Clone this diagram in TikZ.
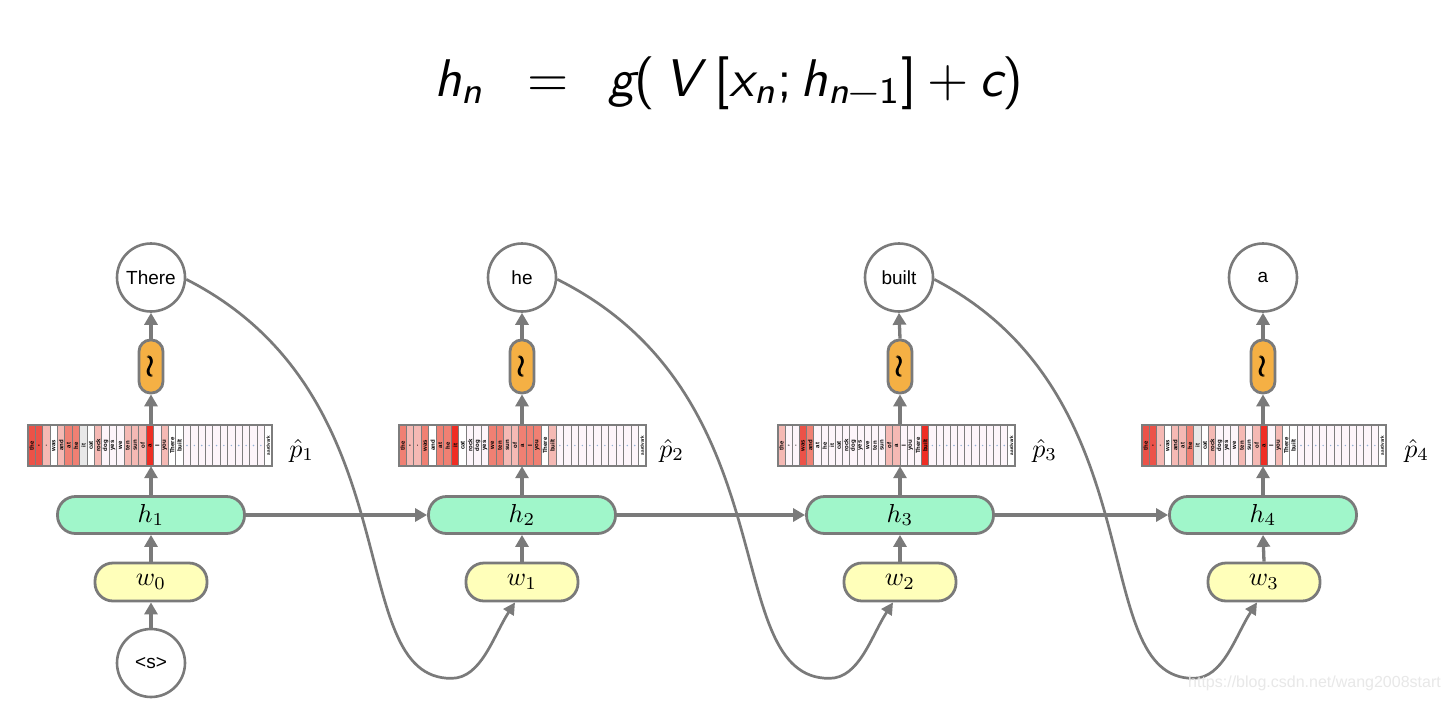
\documentclass[tikz,border=0pt]{standalone}
\usepackage{amsmath}
\usepackage{graphicx}
\usepackage{fontspec}
\newfontfamily\arialf{Liberation Sans}
\usetikzlibrary{arrows.meta,calc}
\definecolor{lgray}{RGB}{122,122,122}
\definecolor{bgray}{RGB}{125,125,125}
\definecolor{mint}{RGB}{160,246,202}
\definecolor{lyellow}{RGB}{255,255,186}
\definecolor{orng}{RGB}{245,176,68}
\definecolor{cH}{RGB}{236,82,72}
\definecolor{cX}{RGB}{238,45,36}
\definecolor{cM}{RGB}{240,128,115}
\definecolor{cL}{RGB}{245,185,180}
\definecolor{cZ}{RGB}{253,245,250}
\definecolor{cW}{RGB}{255,255,255}
\definecolor{cG}{RGB}{232,232,232}
\definecolor{dotc}{RGB}{150,180,215}
\definecolor{wmgray}{RGB}{232,232,232}
\newcommand\sfi[1]{\text{\sffamily\slshape #1}}
\newcommand\sfu[1]{\text{\sffamily #1}}
\newcommand\bigmath[2]{\scalebox{#1}{$#2$}}
\tikzset{
  gline/.style={draw=lgray, line width=3.3pt},
  conn/.style={gline, -{Triangle[width=13pt,length=12pt]}},
  curvec/.style={draw=lgray, line width=2.7pt, -{Triangle[width=12pt,length=12pt]}},
  wordc/.style={circle, draw=lgray, line width=2.6pt, minimum size=68pt, inner sep=0pt,
    font=\arialf\fontsize{19}{19}\selectfont, fill=white},
  hbox/.style={rectangle, rounded corners=18pt, draw=lgray, line width=2.8pt, fill=mint,
    minimum width=187pt, minimum height=37pt, inner sep=0pt},
  wbox/.style={rectangle, rounded corners=18pt, draw=lgray, line width=2.8pt, fill=lyellow,
    minimum width=112pt, minimum height=38pt, inner sep=0pt},
  sbox/.style={rectangle, rounded corners=11.5pt, draw=lgray, line width=2.8pt, fill=orng,
    minimum width=24pt, minimum height=53pt, inner sep=0pt},
  barbox/.style={rectangle, minimum height=41pt, inner sep=0pt},
  cellw/.style={font=\arialf\bfseries\fontsize{6}{6}\selectfont, rotate=90, inner sep=0pt},
  plab/.style={anchor=west, inner sep=0pt},
}
\newcommand\probbar[4]{%
  \node[barbox, minimum width=#3pt] (#1) at (#2,445.5) {};
  \foreach \c [count=\i from 0] in {#4}{
    \path[fill=\c, draw=bgray, line width=1pt] ({#2-#3/2+\i*#3/33},425) rectangle ({#2-#3/2+(\i+1)*#3/33},466);
  }
  \foreach \t [count=\i from 0] in {the,{,},.,was,and,at,he,it,cat,rock,dog,yes,we,ten,sun,of,a,I,you,There,built}{
    \node[cellw] (#1w\i) at ({#2-#3/2+(\i+0.5)*#3/33},445.5) {\t};
  }
  \foreach \i in {21,...,31}{
    \fill[dotc] ({#2-#3/2+(\i+0.5)*#3/33},445.5) circle (0.8);
  }
  \node[cellw, font=\arialf\bfseries\fontsize{4.6}{4.6}\selectfont] (#1w32) at ({#2-#3/2+32.5*#3/33},445.5) {aardvark};
  \draw[bgray, line width=1.5pt] (#1.south west) rectangle (#1.north east);
}
\begin{document}
\begin{tikzpicture}[x=1pt,y=-1pt]
\useasboundingbox (0,0) rectangle (1452,702);
\fill[white] (0,0) rectangle (1452,702);

% equation
\node[anchor=base, inner sep=0pt] (eq) at (729,96)
  {\bigmath{5.3}{\sfi{h}_{\sfi{n}}\hspace{0.8em}\sfu{=}\hspace{0.75em}\sfi{g}\sfu{(}\,\sfi{V}\;\sfu{[}\sfi{x}_{\sfi{n}}\sfu{;}\,\sfi{h}_{\sfi{n}\sfu{\char"2212}\sfu{1}}\sfu{]}\hspace{0.2em}\sfu{+}\hspace{0.2em}\sfi{c}\sfu{)}}};

% probability bars
\probbar{p1}{150}{244}{cH,cH,cL,cW,cL,cM,cM,cG,cW,cL,cZ,cZ,cZ,cL,cL,cL,cX,cZ,cL,cW,cW,cZ,cZ,cZ,cZ,cZ,cZ,cZ,cZ,cZ,cZ,cZ,cW}
\probbar{p2}{522.5}{247}{cM,cL,cL,cM,cW,cM,cM,cX,cW,cZ,cZ,cZ,cM,cM,cL,cL,cM,cM,cM,cW,cL,cZ,cZ,cZ,cZ,cZ,cZ,cZ,cZ,cZ,cZ,cZ,cW}
\probbar{p3}{896.5}{237}{cL,cZ,cZ,cH,cM,cZ,cZ,cZ,cZ,cZ,cZ,cZ,cZ,cZ,cZ,cL,cL,cZ,cZ,cZ,cX,cZ,cZ,cZ,cZ,cZ,cZ,cZ,cZ,cZ,cZ,cZ,cW}
\probbar{p4}{1264}{244}{cH,cH,cL,cW,cL,cL,cM,cG,cW,cL,cZ,cZ,cZ,cL,cZ,cL,cX,cZ,cL,cW,cW,cZ,cZ,cZ,cZ,cZ,cZ,cZ,cZ,cZ,cZ,cZ,cW}

% hidden state boxes
\node[hbox] (h1) at (151,515) {\bigmath{2.6}{h_1}};
\node[hbox] (h2) at (522,515) {\bigmath{2.6}{h_2}};
\node[hbox] (h3) at (900,515) {\bigmath{2.6}{h_3}};
\node[hbox] (h4) at (1263,515) {\bigmath{2.6}{h_4}};
% input word boxes
\node[wbox] (w0) at (151,582) {\bigmath{2.6}{w_0}};
\node[wbox] (w1) at (522,582) {\bigmath{2.6}{w_1}};
\node[wbox] (w2) at (900,582) {\bigmath{2.6}{w_2}};
\node[wbox] (w3) at (1264,582) {\bigmath{2.6}{w_3}};
% sampling pills
\node[sbox] (s1) at (151,366.5) {\bigmath{3}{\pmb{\wr}}};
\node[sbox] (s2) at (522,366.5) {\bigmath{3}{\pmb{\wr}}};
\node[sbox] (s3) at (900,366.5) {\bigmath{3}{\pmb{\wr}}};
\node[sbox] (s4) at (1263,366.5) {\bigmath{3}{\pmb{\wr}}};
% output words
\node[wordc] (o1) at (151,277.5) {There};
\node[wordc] (o2) at (522,277.5) {he};
\node[wordc] (o3) at (899,277.5) {built};
\node[wordc] (o4) at (1263,277.5) {a};
% start symbol
\node[wordc] (st) at (151,663) {<s>};

% p-hat labels
\node[plab] (ph1) at ($(p1.east)+(17,5)$) {\bigmath{2.6}{\hat{p}_1}};
\node[plab] (ph2) at ($(p2.east)+(13,5)$) {\bigmath{2.6}{\hat{p}_2}};
\node[plab] (ph3) at ($(p3.east)+(17,5)$) {\bigmath{2.6}{\hat{p}_3}};
\node[plab] (ph4) at ($(p4.east)+(18,5)$) {\bigmath{2.6}{\hat{p}_4}};

% vertical connectors
\draw[conn] (st.north) -- (w0.south);
\foreach \k/\j in {1/0,2/1,3/2,4/3}{
  \draw[conn] (w\j.north) -- (h\k.south);
}
\foreach \k in {1,2,3,4}{
  \draw[conn] (h\k.north) -- (h\k.north |- p\k.south);
  \draw[conn] (s\k.south |- p\k.north) -- (s\k.south);
  \draw[conn] (s\k.north) -- (o\k.south);
}
% horizontal connectors
\draw[conn] (h1.east) -- (h2.west);
\draw[conn] (h2.east) -- (h3.west);
\draw[conn] (h3.east) -- (h4.west);

% feedback curves
\draw[curvec] (o1.-3) .. controls +(230,117) and +(-110,0) .. ++(265,399)
   .. controls +(30,0) and +(-22,34) .. ($(w1.south)+(-7,0)$);
\draw[curvec] (o2.-3) .. controls +(235,117) and +(-112,0) .. ++(272,399)
   .. controls +(30,0) and +(-22,34) .. ($(w2.south)+(-7,0)$);
\draw[curvec] (o3.-3) .. controls +(225,117) and +(-108,0) .. ++(259,399)
   .. controls +(30,0) and +(-22,34) .. ($(w3.south)+(-7,0)$);

% watermark
\node[anchor=east, inner sep=0pt, text=wmgray, font=\arialf\fontsize{16}{16}\selectfont] (wm) at (1441,683) {https://blog.csdn.net/wang2008start};
\end{tikzpicture}
\end{document}
